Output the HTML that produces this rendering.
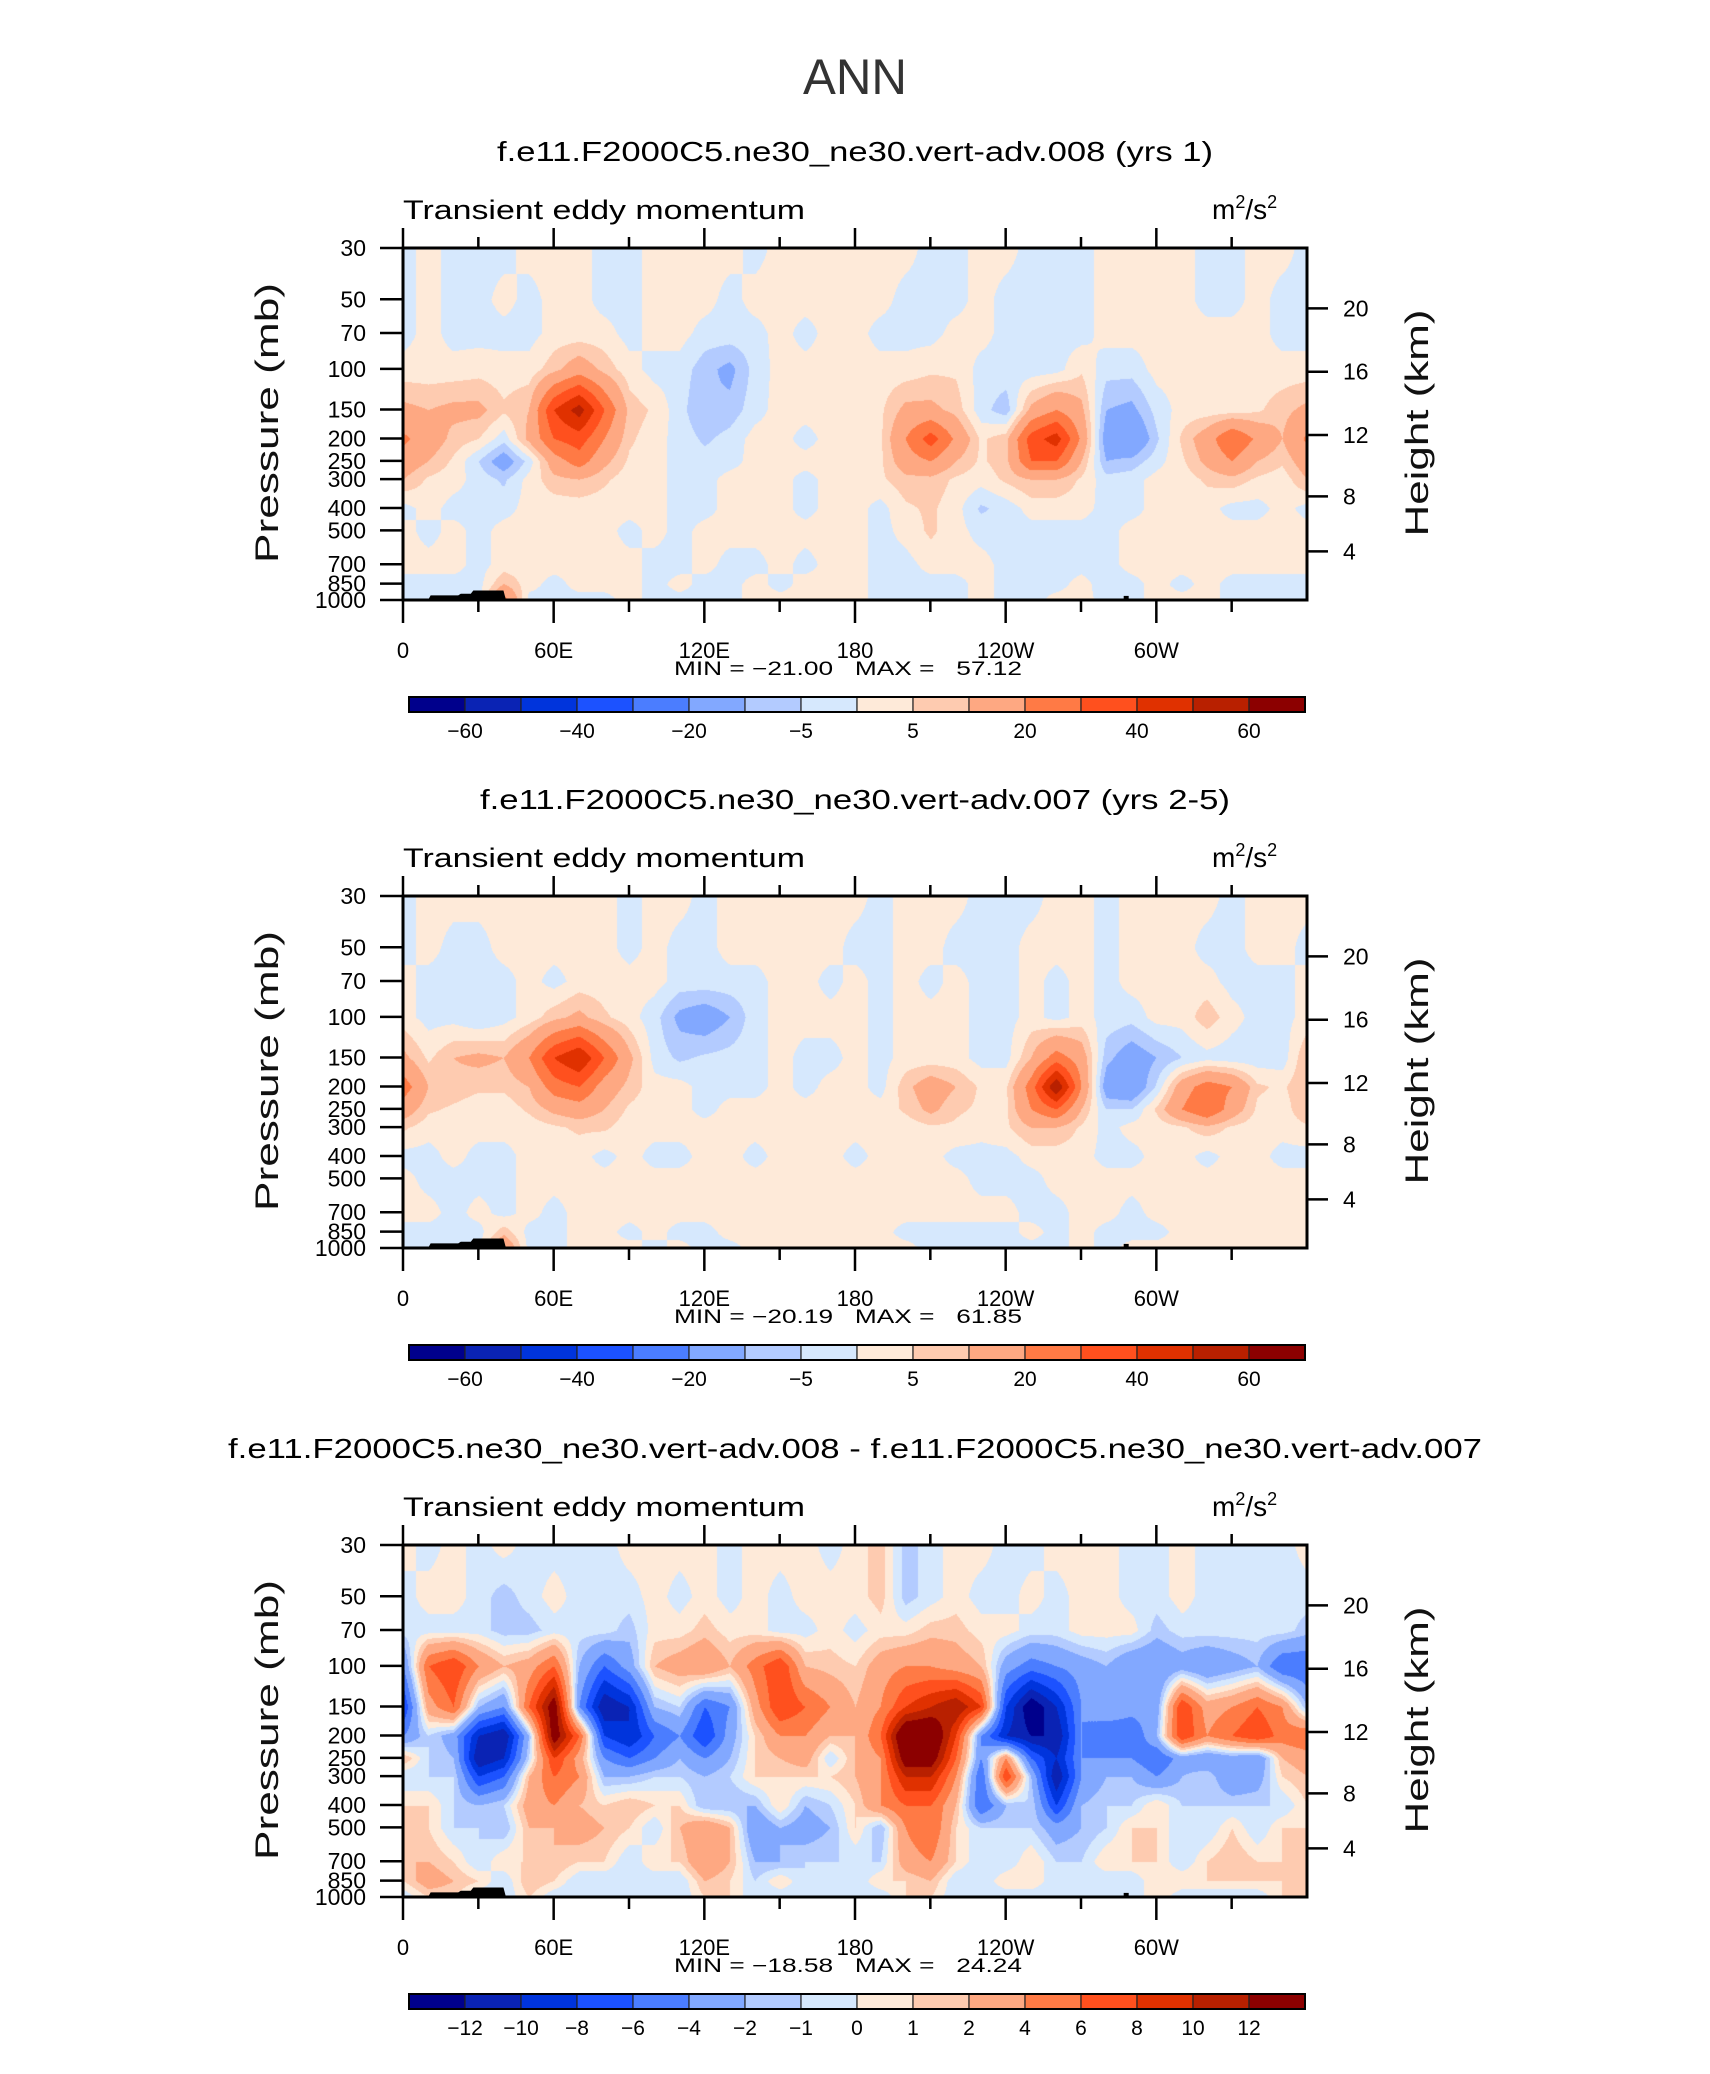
<!DOCTYPE html>
<html><head><meta charset="utf-8">
<style>
html,body{margin:0;padding:0;background:#fff;}
#root{position:relative;width:1710px;height:2074px;overflow:hidden;background:#fff;}
canvas{position:absolute;}
svg{position:absolute;left:0;top:0;}
text{font-family:"Liberation Sans",sans-serif;fill:#000;}
</style></head>
<body>
<div id="root">
<canvas id="c0" width="904" height="352" style="left:403px;top:248px"></canvas>
<canvas id="c1" width="904" height="352" style="left:403px;top:896px"></canvas>
<canvas id="c2" width="904" height="352" style="left:403px;top:1545px"></canvas>
<svg id="svg" width="1710" height="2074" xmlns="http://www.w3.org/2000/svg"></svg>
</div>
<script>
// ---- data ----
const levels = [30,50,70,100,150,200,250,300,400,500,700,850,1000];
const lons = [0,10,20,30,40,50,60,70,80,90,100,110,120,130,140,150,160,170,180,190,200,210,220,230,240,250,260,270,280,290,300,310,320,330,340,350,360];
const lonTickLabels = ["0","60E","120E","180","120W","60W"];
const presTicks = [30,50,70,100,150,200,250,300,400,500,700,850,1000];
const heightTicks = [4,8,12,16,20];
const cbLevels1 = [-60,-50,-40,-30,-20,-10,-5,0,5,10,20,30,40,50,60];
const cbLabels1 = ["-60","","-40","","-20","","-5","","5","","20","","40","","60"];
const cbLevels3 = [-12,-10,-8,-6,-4,-2,-1,0,1,2,4,6,8,10,12];
const cbLabels3 = ["-12","-10","-8","-6","-4","-2","-1","0","1","2","4","6","8","10","12"];
const colors = ['#00008c','#0a23b4','#0034dc','#1c52ff','#4b7dff','#82a8ff','#b3cbff','#d6e8fd','#feead9','#fecbb0','#fea882','#ff7a45','#ff501e','#e03100','#b82000','#8c0000'];
const titles = ["f.e11.F2000C5.ne30_ne30.vert-adv.008 (yrs 1)","f.e11.F2000C5.ne30_ne30.vert-adv.007 (yrs 2-5)","f.e11.F2000C5.ne30_ne30.vert-adv.008 - f.e11.F2000C5.ne30_ne30.vert-adv.007"];
const minVals = ["-21.00","-20.19","-18.58"];
const maxVals = ["57.12","61.85","24.24"];

const field1 = [
[-2,2,-2,-2,-2,2,2,2,-2,-2,2,2,2,2,-2,2,2,2,2,2,2,-2,-2,2,2,-2,-2,-2,2,2,2,2,-2,-2,2,2,-2],
[-2,2,-2,-2,2,-2,2,2,-2,-2,2,2,2,-2,2,2,2,2,2,2,-2,-2,-2,2,-2,-2,-2,-2,2,2,2,2,-2,-2,2,-2,-2],
[-2,2,-2,-2,-2,-2,2,2,2,-2,2,2,-2,-2,-2,2,-2,2,2,-2,-2,-2,2,2,-2,-2,-2,-2,2,2,2,2,2,2,2,-2,-2],
[2,2,2,3,2,2,8,15,8,2,-2,-2,-8,-12,-3,2,2,2,2,2,2,4,4,-2,-2,-3,-2,4,-3,-3,2,2,2,2,2,2,2],
[12,10,12,12,6,10,40,55,30,8,4,-3,-10,-8,-2,2,2,2,2,4,12,12,8,-3,-8,12,20,12,-10,-12,-3,2,2,2,4,8,12],
[22,15,8,5,-3,12,30,35,20,6,2,-2,-6,-3,2,2,-2,2,2,4,20,35,18,4,8,35,45,18,-15,-20,-6,6,15,30,18,10,22],
[15,10,4,-5,-15,-3,15,25,12,4,2,-2,-3,-2,2,2,2,2,2,4,15,20,10,4,8,30,30,10,-10,-8,-2,4,12,20,10,6,15],
[10,4,2,-2,-6,2,8,10,6,2,2,-2,-2,2,2,2,-2,2,2,4,8,8,4,2,6,10,10,4,-3,-2,2,2,6,8,4,2,10],
[-2,2,-2,-2,-2,2,2,2,2,2,2,-2,-2,2,2,2,-2,2,2,-2,4,6,2,-6,-3,2,2,2,-2,-2,2,2,2,-2,-2,2,-2],
[2,-2,2,-2,2,2,2,2,2,-2,2,-2,2,2,2,2,2,2,2,-2,2,6,2,-2,-2,-2,-2,-2,-2,2,2,2,2,2,2,2,2],
[2,2,2,-2,2,2,2,2,2,2,-2,-2,2,-2,-2,2,-2,2,2,-2,-2,2,2,2,-2,-2,-2,-2,-2,2,2,2,2,2,2,2,2],
[-2,-2,-2,-2,10,2,-2,2,2,2,-2,2,-2,-2,2,-2,2,2,2,-2,-2,-2,-2,2,-2,-2,-2,2,-3,-2,2,-2,2,-2,-2,-2,-2],
[-2,-2,-2,-2,25,-2,-2,-2,-2,2,-2,-2,-2,-2,2,2,2,2,2,-2,-2,-2,-2,2,-2,-2,2,2,-2,-2,2,2,2,-2,-2,-2,-2]
];
const field2 = [
[-2,2,2,2,2,2,2,2,2,-2,2,2,-2,2,2,2,2,2,2,-2,2,2,2,-2,-2,-2,2,2,-2,2,2,2,2,-2,2,2,2],
[-2,2,-2,-2,2,2,2,2,2,-2,2,-2,-2,2,2,2,2,2,-2,-2,2,2,-2,-2,-2,2,2,2,-2,2,2,2,-2,-2,2,2,-2],
[2,-2,-2,-2,-2,2,-2,2,2,2,2,-2,-2,-2,-2,2,2,-2,2,-2,2,-2,2,-2,-2,2,-2,2,-2,2,2,2,2,-2,-2,-2,2],
[2,-2,-2,-5,-2,2,8,12,6,2,-3,-12,-15,-10,-2,2,2,2,2,-2,2,2,2,-2,-2,2,-2,2,-2,-3,2,2,8,2,-2,-2,2],
[12,4,10,12,10,20,40,50,30,12,-2,-6,-4,-3,-2,2,-2,-2,2,-2,2,2,2,-2,-2,10,25,15,-8,-15,-10,-5,-2,-3,-3,-3,10],
[25,10,8,6,6,10,25,30,15,8,2,2,-2,-2,-2,2,-2,2,2,-2,8,15,10,4,4,25,60,20,-15,-18,-4,15,25,20,6,4,10],
[15,6,4,2,2,6,12,15,10,4,2,2,-2,2,2,2,2,2,2,2,6,12,6,4,4,20,30,10,-5,-5,6,20,30,15,4,2,10],
[6,2,2,2,2,2,4,6,6,2,2,2,2,2,2,2,2,2,2,2,2,4,4,2,4,10,10,4,-2,2,2,4,8,4,2,2,4],
[-2,-2,2,-2,-2,2,2,2,-2,2,-2,-2,2,2,-2,2,2,2,-2,2,2,2,-2,-2,-2,2,2,2,-2,-2,2,2,-2,2,2,-2,-2],
[2,-2,-2,-2,-2,2,2,2,2,2,2,2,2,2,2,2,2,2,2,2,2,2,2,-2,-2,-2,2,2,2,2,2,2,2,2,2,2,2],
[2,2,-2,2,-2,2,-2,2,2,2,2,2,2,2,2,2,2,2,2,2,2,2,2,2,2,-2,-2,2,2,-2,2,2,2,2,2,2,2],
[-2,-2,-2,-2,8,-2,-2,2,2,-2,2,-2,-2,2,2,2,2,2,2,2,-2,-2,-2,-2,-2,2,-2,2,-2,-2,-2,2,2,2,2,2,2],
[-2,-2,-2,-2,20,-2,-2,2,2,2,-2,2,-2,-2,2,2,2,2,2,2,2,-2,-2,-2,-2,-2,-2,2,-2,2,2,2,2,2,2,2,2]
];
const field3 = [
[0.5,-0.5,0.5,-0.5,0.5,-0.5,-0.5,-0.5,-0.5,0.5,0.5,0.5,0.5,-0.5,0.5,0.5,0.5,-0.5,0.5,1.5,-1.5,-0.5,0.5,0.5,-0.5,-0.5,0.5,0.5,0.5,-0.5,-0.5,0.5,-0.5,-0.5,-0.5,-0.5,0.5],
[-0.5,0.5,0.5,-0.5,-1.5,-0.5,0.5,-0.5,-0.5,-0.5,0.5,-0.5,0.5,-0.5,0.5,-0.5,0.5,0.5,0.5,1.5,-1.5,-0.5,0.5,-0.5,-0.5,0.5,-0.5,0.5,0.5,-0.5,-0.5,0.5,-0.5,-0.5,-0.5,-0.5,-0.5],
[-0.5,-0.5,-0.5,-0.5,-1.5,-1.5,-0.5,-0.5,-0.5,-1.5,0.5,0.5,1.5,0.5,0.5,-0.5,-0.5,0.5,-0.5,0.5,0.5,1.5,1.5,0.5,0.5,-0.5,-0.5,0.5,0.5,0.5,-1.5,-0.5,-0.5,-0.5,-0.5,-0.5,-1.5],
[-4,6,8,4,2,3,6,-2,-6,-3,2,3,4,2,5,8,2,1.5,1,3,4,4,3,2,-3,-5,-4,-3,-2,-4,-4,-3,-4,-3,-2,-6,-6],
[-8,3,6,-2,-4,6,14,-4,-12,-10,-2,-1,-6,-4,3,8,6,4,2,4,8,10,12,8,-8,-14,-10,-4,-2,-3,-3,8,3,4,6,4,-2],
[-4,-1,-3,-10,-12,-2,14,6,-8,-10,-6,-4,-8,-3,1,4,4,2,2,6,16,16,8,-4,-10,-12,-12,-4,-6,-6,-2,8,4,6,8,5,6],
[2,-1,-2,-12,-10,-1,8,3,-4,-6,-4,-2,-4,-2,1,2,3,-1,2,4,14,14,6,-4,4,-6,-10,-4,-4,-4,-6,-3,-4,-3,-4,2,3],
[-1,-1,-1,-8,-6,2,6,4,-2,-2,-1,-1,-2,-1,1,1,1,1,2,4,10,10,4,-6,8,-2,-12,-4,-2,-2,-4,-2,-1,-4,-3,1,2],
[1,1,-1,-2,-1,3,4,2,1,2,1,1,-2,-2,-2,1,-2,-1,1,4,6,6,2,-6,-2,-1,-8,-2,-1,-1,1,-1,-1,-1,-1,-1,1],
[1,1,-1,-1,-2,2,2,3,2,1,-1,2,4,2,-4,-2,-3,-2,1,-2,4,6,1,-1,-1,-1,-3,-2,-1,1,1,-1,-1,1,-1,1,1],
[2,2,1,-1,1,1,2,1,1,-1,1,1,4,2,-2,-2,-1,-1,-1,-1,3,4,1,-1,-1,1,-1,-1,1,1,1,-1,1,2,1,1,1],
[1,3,2,1,-1,2,1,-1,-1,-1,-1,-1,2,1,-1,1,-1,-1,-1,1,1,2,-1,-1,1,1,-1,-1,-1,-1,1,1,1,1,1,1,1],
[-1,1,1,-1,-1,1,-1,-1,-1,-1,-1,-1,1,1,-1,-1,-1,-1,-1,-1,1,1,-1,-1,-1,-1,-1,-1,-1,-1,1,-1,-1,-1,-1,1,1]
];
// topography (lon, surface pressure)
const topoLon = [10,11,22,23,27,28,40,41];
const topoP = [1000,955,955,940,940,910,910,1000];

// ---- geometry ----
const PX0 = 403, PW = 904, PH = 352;
const panelTops = [248, 896, 1545];
const xOf = lon => PX0 + lon / 360 * PW;
const yRel = p => PH * Math.log(p / 30) / Math.log(1000 / 30);
function pOfZ(km){ const z = km*1000; return z <= 11000 ? 1013.25*Math.pow(1-2.25577e-5*z,5.25588) : 226.32*Math.exp(-(z-11000)/6341.6); }

const NS = "http://www.w3.org/2000/svg";
const svg = document.getElementById('svg');
function el(tag, attrs, parent){ const e = document.createElementNS(NS, tag); for (const k in attrs) e.setAttribute(k, attrs[k]); (parent||svg).appendChild(e); return e; }
function txt(s, attrs, parent){ const e = el('text', attrs, parent); e.textContent = s; return e; }

function colorIdx(v, lv){ let i = 0; while (i < lv.length && v >= lv[i]) i++; return i; }
function hex(c){ return [parseInt(c.substr(1,2),16),parseInt(c.substr(3,2),16),parseInt(c.substr(5,2),16)]; }
const rgb = colors.map(hex);

function drawField(canvas, field, lv){
  const ctx = canvas.getContext('2d');
  const img = ctx.createImageData(PW, PH);
  const ly = levels.map(yRel);
  for (let py = 0; py < PH; py++){
    let k = 0; while (k < ly.length-2 && py > ly[k+1]) k++;
    let fy = (py - ly[k]) / (ly[k+1] - ly[k]); fy = Math.max(0, Math.min(1, fy));
    for (let px = 0; px < PW; px++){
      const lon = px / PW * 360;
      let j = Math.min(lons.length-2, Math.floor(lon/10));
      const fx = (lon - lons[j]) / 10;
      const v = (field[k][j]*(1-fx) + field[k][j+1]*fx)*(1-fy) + (field[k+1][j]*(1-fx) + field[k+1][j+1]*fx)*fy;
      const c = rgb[colorIdx(v, lv)];
      const o = (py*PW + px)*4;
      img.data[o]=c[0]; img.data[o+1]=c[1]; img.data[o+2]=c[2]; img.data[o+3]=255;
    }
  }
  ctx.putImageData(img, 0, 0);
}
drawField(document.getElementById('c0'), field1, cbLevels1);
drawField(document.getElementById('c1'), field2, cbLevels1);
drawField(document.getElementById('c2'), field3, cbLevels3);

// main title
const ann = txt("ANN", {x:855, y:94, 'font-size':50, 'text-anchor':'middle', textLength:104, lengthAdjust:'spacingAndGlyphs', style:'fill:#333'});



for (let i = 0; i < 3; i++){
  const T = panelTops[i];
  const dy = T - 248;
  const g = el('g', {});
  
  

  const tt = txt(titles[i], {x:855, y:161+dy, 'font-size':28, 'text-anchor':'middle', textLength: i==0?716:(i==1?750:1254), lengthAdjust:'spacingAndGlyphs'}, g);
  
  
  const ls = txt("Transient eddy momentum", {x:403, y:219+dy, 'font-size':27, textLength:402, lengthAdjust:'spacingAndGlyphs'}, g);
  
  
  const un = el('text', {x:1212, y:219+dy, 'font-size':28}, g);
  
  
  un.innerHTML = 'm<tspan dy="-11" font-size="18">2</tspan><tspan dy="11">/s</tspan><tspan dy="-11" font-size="18">2</tspan>';

  // topography
  let pts = topoLon.map((l,k)=> xOf(l)+','+(T+yRel(topoP[k]))).join(' ');
  const topo = el('polygon', {points:pts, fill:'#000'}, g);
  
  
  el('rect', {x:xOf(287), y:T+yRel(960), width:5, height:PH-yRel(960), fill:'#000'}, g);
  el('rect', {x:xOf(287), y:T+yRel(990), width:30, height:PH-yRel(990), fill:'#000'}, g);
  el('rect', {x:xOf(77), y:T+yRel(993), width:5, height:PH-yRel(993), fill:'#000'}, g);
  el('rect', {x:xOf(87), y:T+yRel(993), width:6, height:PH-yRel(993), fill:'#000'}, g);

  // frame
  const fr = el('rect', {x:PX0, y:T, width:PW, height:PH, fill:'none', stroke:'#000', 'stroke-width':3}, g);
  
  

  // lon ticks
  for (let l = 0; l < 360; l += 30){
    const major = l % 60 === 0;
    const x = xOf(l);
    el('line', {x1:x, x2:x, y1:T, y2:T-(major?20:11), stroke:'#000','stroke-width':2.5}, g);
    el('line', {x1:x, x2:x, y1:T+PH, y2:T+PH+(major?23:12), stroke:'#000','stroke-width':2.5}, g);
    if (major){
      const lb = txt(lonTickLabels[l/60], {x:x, y:T+PH+58, 'font-size':22, 'text-anchor':'middle'}, g);
      
      
    }
  }
  // pressure ticks
  presTicks.forEach(p => {
    const y = T + yRel(p);
    el('line', {x1:PX0-23, x2:PX0, y1:y, y2:y, stroke:'#000','stroke-width':2.5}, g);
    const lb = txt(String(p), {x:366, y:y+8, 'font-size':23, 'text-anchor':'end'}, g);
    
    
  });
  heightTicks.forEach(h => {
    const y = T + yRel(pOfZ(h));
    el('line', {x1:PX0+PW, x2:PX0+PW+21, y1:y, y2:y, stroke:'#000','stroke-width':2.5}, g);
    const lb = txt(String(h), {x:1343, y:y+8, 'font-size':23}, g);
    
    
  });
  const yt = txt("Pressure (mb)", {x:0, y:0, 'font-size':32, 'text-anchor':'middle', textLength:280, lengthAdjust:'spacingAndGlyphs', transform:`translate(278,${T+175}) rotate(-90)`, style:'fill:#111'}, g);
  
  
  const yt2 = txt("Height (km)", {x:0, y:0, 'font-size':32, 'text-anchor':'middle', textLength:227, lengthAdjust:'spacingAndGlyphs', transform:`translate(1428,${T+175}) rotate(-90)`, style:'fill:#111'}, g);
  
  

  const mm = txt("MIN = " + minVals[i].replace('-','\u2212') + "   MAX =   " + maxVals[i], {x:848, y:675+dy, 'font-size':19, 'text-anchor':'middle', textLength:348, lengthAdjust:'spacingAndGlyphs', style:'white-space:pre'}, g);
  
  

  // colorbar
  const cb = el('g', {}, g);
  
  
  const cx0 = 409, cw = 896/16, cy = 697+dy, ch = 15;
  colors.forEach((c, k) => {
    const r = el('rect', {x:cx0+k*cw, y:cy, width:cw, height:ch, fill:c, stroke:'#222','stroke-width':1.2}, cb);
    
    
  });
  el('rect', {x:cx0, y:cy, width:896, height:ch, fill:'none', stroke:'#000','stroke-width':2}, cb);
  const labs = i < 2 ? cbLabels1 : cbLabels3;
  labs.forEach((s, k) => {
    if (!s) return;
    const lb = txt(s.replace('-','\u2212'), {x:cx0+(k+1)*cw, y:cy+41, 'font-size':21, 'text-anchor':'middle'}, cb);
    
    
  });
}
</script>
</body></html>
